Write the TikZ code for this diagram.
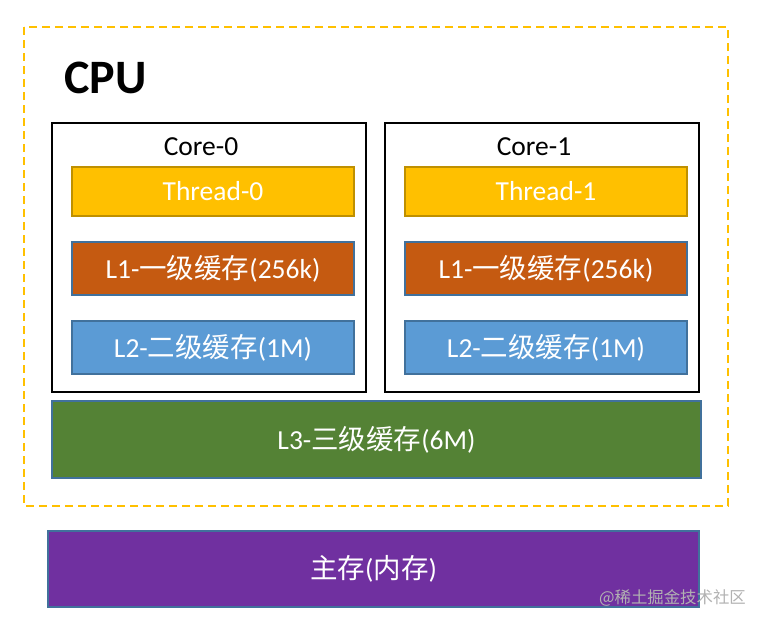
\documentclass[tikz,border=0pt]{standalone}
\usepackage{fontspec}
\setmainfont{Carlito}
\newfontfamily\cjk{Noto Sans CJK SC}
\definecolor{gold}{HTML}{FFC000}
\definecolor{golddark}{HTML}{BF9000}
\definecolor{rust}{HTML}{C55A11}
\definecolor{skyb}{HTML}{5B9BD5}
\definecolor{bordb}{HTML}{41719C}
\definecolor{leaf}{HTML}{548235}
\definecolor{plum}{HTML}{7030A0}
\tikzset{
  cachebox/.style={draw=bordb, line width=1.5pt, text=white, inner sep=0pt, minimum width=282pt, minimum height=53pt, font=\fontsize{27.5}{30}\selectfont},
  corebox/.style={draw=black, line width=2pt, minimum width=314pt, minimum height=269pt, inner sep=0pt},
  corelabel/.style={font=\fontsize{27.5}{30}\selectfont, text=black, inner sep=0pt},
  bigbox/.style={draw=bordb, line width=1.5pt, text=white, inner sep=0pt, minimum height=77pt, font=\fontsize{27.5}{30}\selectfont},
}
\begin{document}
\begin{tikzpicture}[x=1pt,y=-1pt]
\useasboundingbox (0,0) rectangle (764,627);
\fill[white] (0,0) rectangle (764,627);
% CPU dashed frame
\draw[gold, line width=1.8pt, dash pattern=on 8pt off 5pt] (24,27) rectangle (728,506);
% CPU title
\node[anchor=base west, inner sep=0pt, text=black, font=\fontsize{48}{52}\selectfont\bfseries] (cpu) at (64,93) {CPU};
% cores
\node[corebox] (core0) at (209,257.5) {};
\node[corebox] (core1) at (542,257.5) {};
\node[corelabel] (c0lab) at (201,147) {Core-0};
\node[corelabel] (c1lab) at (534,147) {Core-1};
% threads
\node[cachebox, fill=gold, draw=golddark, minimum height=49pt] (t0) at (213,191.5) {Thread-0};
\node[cachebox, fill=gold, draw=golddark, minimum height=49pt] (t1) at (546,191.5) {Thread-1};
% L1
\node[cachebox, fill=rust] (l1a) at (213,268.5) {L1-{\cjk 一级缓存}(256k)};
\node[cachebox, fill=rust] (l1b) at (546,268.5) {L1-{\cjk 一级缓存}(256k)};
% L2
\node[cachebox, fill=skyb] (l2a) at (213,347.5) {L2-{\cjk 二级缓存}(1M)};
\node[cachebox, fill=skyb] (l2b) at (546,347.5) {L2-{\cjk 二级缓存}(1M)};
% L3
\node[bigbox, fill=leaf, minimum width=649pt] (l3) at (376.5,439.5) {L3-{\cjk 三级缓存}(6M)};
% main memory
\node[bigbox, fill=plum, minimum width=651pt, minimum height=76pt] (mem) at (373.5,569) {{\cjk 主存}({\cjk 内存})};
% watermark
\node[anchor=east, inner sep=0pt, text=black!30, font=\cjk\fontsize{16.4}{18}\selectfont] (wm) at (746,598) {@稀土掘金技术社区};
\end{tikzpicture}
\end{document}
